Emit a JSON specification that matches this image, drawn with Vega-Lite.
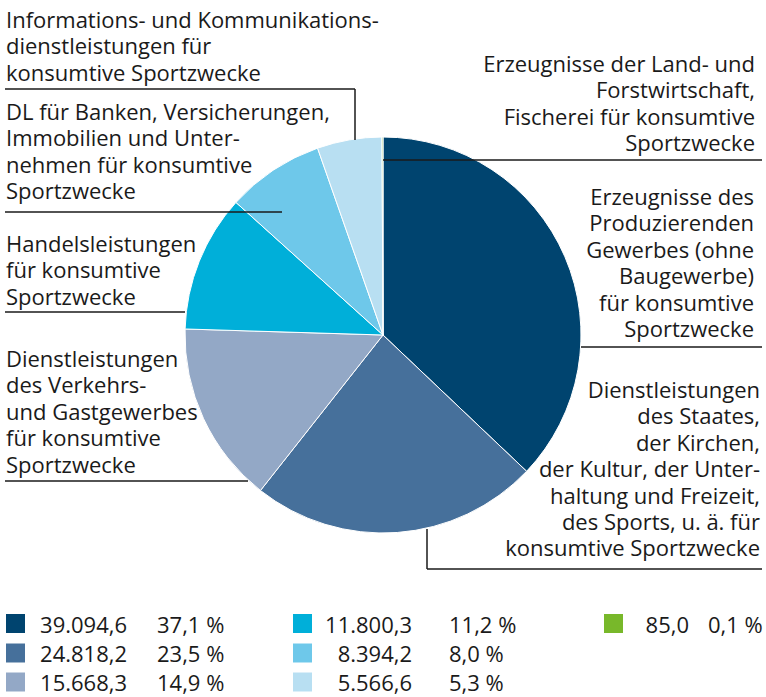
{
  "$schema": "https://vega.github.io/schema/vega-lite/v6.json",
  "width": 766,
  "height": 697,
  "padding": 0,
  "autosize": {"type": "none"},
  "background": "white",
  "config": {
    "view": {"stroke": null},
    "axis": {"disable": true},
    "text": {"font": "Open Sans", "fontSize": 22, "color": "#1a1a1a", "lineHeight": 26.4, "baseline": "alphabetic"},
    "rule": {"color": "#1a1a1a", "strokeWidth": 1.5},
    "locale": {"number": {"decimal": ",", "thousands": ".", "grouping": [3], "currency": ["", " €"], "percent": " %"}}
  },
  "datasets": {
    "slices": [
      {"key": "prod", "ord": 1, "value": 39094.6, "share": 0.371, "label": "Erzeugnisse des\nProduzierenden\nGewerbes (ohne\nBaugewerbe)\nfür konsumtive\nSportzwecke"},
      {"key": "staat", "ord": 2, "value": 24818.2, "share": 0.235, "label": "Dienstleistungen\ndes Staates,\nder Kirchen,\nder Kultur, der Unter-\nhaltung und Freizeit,\ndes Sports, u. ä. für\nkonsumtive Sportzwecke"},
      {"key": "verkehr", "ord": 3, "value": 15668.3, "share": 0.149, "label": "Dienstleistungen\ndes Verkehrs-\nund Gastgewerbes\nfür konsumtive\nSportzwecke"},
      {"key": "handel", "ord": 4, "value": 11800.3, "share": 0.112, "label": "Handelsleistungen\nfür konsumtive\nSportzwecke"},
      {"key": "banken", "ord": 5, "value": 8394.2, "share": 0.080, "label": "DL für Banken, Versicherungen,\nImmobilien und Unter-\nnehmen für konsumtive\nSportzwecke"},
      {"key": "ikt", "ord": 6, "value": 5566.6, "share": 0.053, "label": "Informations- und Kommunikations-\ndienstleistungen für\nkonsumtive Sportzwecke"},
      {"key": "land", "ord": 7, "value": 85.0, "share": 0.001, "label": "Erzeugnisse der Land- und\nForstwirtschaft,\nFischerei für konsumtive\nSportzwecke"}
    ]
  },
  "data": {"name": "slices"},
  "resolve": {"scale": {"x": "independent", "y": "independent"}},
  "layer": [
    {
      "mark": {"type": "arc", "radius": 198, "stroke": "white", "strokeWidth": 1},
      "encoding": {
        "theta": {"field": "value", "type": "quantitative", "stack": true},
        "order": {"field": "ord", "type": "quantitative"},
        "color": {"field": "key", "type": "nominal", "legend": null,
          "scale": {"domain": ["prod", "staat", "verkehr", "handel", "banken", "ikt", "land"],
                    "range": ["#00446f", "#46709b", "#93a8c6", "#00afd9", "#6ec8ea", "#b8dff2", "#78b82a"]}},
        "x": {"datum": 383, "type": "quantitative", "scale": {"domain": [0, 766], "range": [0, 766], "nice": false, "zero": false}},
        "y": {"datum": 335, "type": "quantitative", "scale": {"domain": [0, 697], "range": [0, 697], "nice": false, "zero": false}}
      }
    },
    {
      "transform": [{"filter": "datum.key == 'ikt'"}],
      "mark": {"type": "text", "align": "left", "lineBreak": "\n"},
      "encoding": {
        "text": {"field": "label"},
        "x": {"datum": 6, "type": "quantitative", "scale": {"domain": [0, 766], "range": [0, 766], "nice": false, "zero": false}},
        "y": {"datum": 28, "type": "quantitative", "scale": {"domain": [0, 697], "range": [0, 697], "nice": false, "zero": false}}
      }
    },
    {
      "transform": [{"filter": "datum.key == 'banken'"}],
      "mark": {"type": "text", "align": "left", "lineBreak": "\n"},
      "encoding": {
        "text": {"field": "label"},
        "x": {"datum": 6, "type": "quantitative", "scale": {"domain": [0, 766], "range": [0, 766], "nice": false, "zero": false}},
        "y": {"datum": 120, "type": "quantitative", "scale": {"domain": [0, 697], "range": [0, 697], "nice": false, "zero": false}}
      }
    },
    {
      "transform": [{"filter": "datum.key == 'handel'"}],
      "mark": {"type": "text", "align": "left", "lineBreak": "\n"},
      "encoding": {
        "text": {"field": "label"},
        "x": {"datum": 6, "type": "quantitative", "scale": {"domain": [0, 766], "range": [0, 766], "nice": false, "zero": false}},
        "y": {"datum": 252, "type": "quantitative", "scale": {"domain": [0, 697], "range": [0, 697], "nice": false, "zero": false}}
      }
    },
    {
      "transform": [{"filter": "datum.key == 'verkehr'"}],
      "mark": {"type": "text", "align": "left", "lineBreak": "\n"},
      "encoding": {
        "text": {"field": "label"},
        "x": {"datum": 6, "type": "quantitative", "scale": {"domain": [0, 766], "range": [0, 766], "nice": false, "zero": false}},
        "y": {"datum": 367, "type": "quantitative", "scale": {"domain": [0, 697], "range": [0, 697], "nice": false, "zero": false}}
      }
    },
    {
      "transform": [{"filter": "datum.key == 'land'"}],
      "mark": {"type": "text", "align": "right", "lineBreak": "\n"},
      "encoding": {
        "text": {"field": "label"},
        "x": {"datum": 755, "type": "quantitative", "scale": {"domain": [0, 766], "range": [0, 766], "nice": false, "zero": false}},
        "y": {"datum": 72, "type": "quantitative", "scale": {"domain": [0, 697], "range": [0, 697], "nice": false, "zero": false}}
      }
    },
    {
      "transform": [{"filter": "datum.key == 'prod'"}],
      "mark": {"type": "text", "align": "right", "lineBreak": "\n"},
      "encoding": {
        "text": {"field": "label"},
        "x": {"datum": 754, "type": "quantitative", "scale": {"domain": [0, 766], "range": [0, 766], "nice": false, "zero": false}},
        "y": {"datum": 205, "type": "quantitative", "scale": {"domain": [0, 697], "range": [0, 697], "nice": false, "zero": false}}
      }
    },
    {
      "transform": [{"filter": "datum.key == 'staat'"}],
      "mark": {"type": "text", "align": "right", "lineBreak": "\n"},
      "encoding": {
        "text": {"field": "label"},
        "x": {"datum": 760, "type": "quantitative", "scale": {"domain": [0, 766], "range": [0, 766], "nice": false, "zero": false}},
        "y": {"datum": 398, "type": "quantitative", "scale": {"domain": [0, 697], "range": [0, 697], "nice": false, "zero": false}}
      }
    },
    {
      "transform": [{"filter": "datum.key == 'ikt'"}],
      "mark": {"type": "rule"},
      "encoding": {
        "x": {"datum": 5, "type": "quantitative", "scale": {"domain": [0, 766], "range": [0, 766], "nice": false, "zero": false}},
        "x2": {"datum": 355},
        "y": {"datum": 89, "type": "quantitative", "scale": {"domain": [0, 697], "range": [0, 697], "nice": false, "zero": false}},
        "y2": {"datum": 89}
      }
    },
    {
      "transform": [{"filter": "datum.key == 'ikt'"}],
      "mark": {"type": "rule"},
      "encoding": {
        "x": {"datum": 355, "type": "quantitative", "scale": {"domain": [0, 766], "range": [0, 766], "nice": false, "zero": false}},
        "x2": {"datum": 355},
        "y": {"datum": 89, "type": "quantitative", "scale": {"domain": [0, 697], "range": [0, 697], "nice": false, "zero": false}},
        "y2": {"datum": 140}
      }
    },
    {
      "transform": [{"filter": "datum.key == 'banken'"}],
      "mark": {"type": "rule"},
      "encoding": {
        "x": {"datum": 5, "type": "quantitative", "scale": {"domain": [0, 766], "range": [0, 766], "nice": false, "zero": false}},
        "x2": {"datum": 282},
        "y": {"datum": 212, "type": "quantitative", "scale": {"domain": [0, 697], "range": [0, 697], "nice": false, "zero": false}},
        "y2": {"datum": 212}
      }
    },
    {
      "transform": [{"filter": "datum.key == 'handel'"}],
      "mark": {"type": "rule"},
      "encoding": {
        "x": {"datum": 5, "type": "quantitative", "scale": {"domain": [0, 766], "range": [0, 766], "nice": false, "zero": false}},
        "x2": {"datum": 185},
        "y": {"datum": 312, "type": "quantitative", "scale": {"domain": [0, 697], "range": [0, 697], "nice": false, "zero": false}},
        "y2": {"datum": 312}
      }
    },
    {
      "transform": [{"filter": "datum.key == 'verkehr'"}],
      "mark": {"type": "rule"},
      "encoding": {
        "x": {"datum": 5, "type": "quantitative", "scale": {"domain": [0, 766], "range": [0, 766], "nice": false, "zero": false}},
        "x2": {"datum": 248},
        "y": {"datum": 481, "type": "quantitative", "scale": {"domain": [0, 697], "range": [0, 697], "nice": false, "zero": false}},
        "y2": {"datum": 481}
      }
    },
    {
      "transform": [{"filter": "datum.key == 'land'"}],
      "mark": {"type": "rule"},
      "encoding": {
        "x": {"datum": 383, "type": "quantitative", "scale": {"domain": [0, 766], "range": [0, 766], "nice": false, "zero": false}},
        "x2": {"datum": 762},
        "y": {"datum": 160, "type": "quantitative", "scale": {"domain": [0, 697], "range": [0, 697], "nice": false, "zero": false}},
        "y2": {"datum": 160}
      }
    },
    {
      "transform": [{"filter": "datum.key == 'prod'"}],
      "mark": {"type": "rule"},
      "encoding": {
        "x": {"datum": 581, "type": "quantitative", "scale": {"domain": [0, 766], "range": [0, 766], "nice": false, "zero": false}},
        "x2": {"datum": 762},
        "y": {"datum": 347, "type": "quantitative", "scale": {"domain": [0, 697], "range": [0, 697], "nice": false, "zero": false}},
        "y2": {"datum": 347}
      }
    },
    {
      "transform": [{"filter": "datum.key == 'staat'"}],
      "mark": {"type": "rule"},
      "encoding": {
        "x": {"datum": 427, "type": "quantitative", "scale": {"domain": [0, 766], "range": [0, 766], "nice": false, "zero": false}},
        "x2": {"datum": 427},
        "y": {"datum": 529, "type": "quantitative", "scale": {"domain": [0, 697], "range": [0, 697], "nice": false, "zero": false}},
        "y2": {"datum": 569}
      }
    },
    {
      "transform": [{"filter": "datum.key == 'staat'"}],
      "mark": {"type": "rule"},
      "encoding": {
        "x": {"datum": 427, "type": "quantitative", "scale": {"domain": [0, 766], "range": [0, 766], "nice": false, "zero": false}},
        "x2": {"datum": 762},
        "y": {"datum": 569, "type": "quantitative", "scale": {"domain": [0, 697], "range": [0, 697], "nice": false, "zero": false}},
        "y2": {"datum": 569}
      }
    },
    {
      "transform": [
        {"window": [{"op": "row_number", "as": "rn"}], "sort": [{"field": "ord"}]},
        {"calculate": "floor((datum.rn - 1) / 3)", "as": "lcol"},
        {"calculate": "(datum.rn - 1) % 3", "as": "lrow"}
      ],
      "mark": {"type": "square", "size": 361, "opacity": 1, "filled": true},
      "encoding": {
        "color": {"field": "key", "type": "nominal", "legend": null},
        "x": {"field": "lcol", "type": "quantitative", "scale": {"domain": [0, 1, 2], "range": [15.5, 302.5, 613.5], "nice": false, "zero": false}},
        "y": {"field": "lrow", "type": "quantitative", "scale": {"domain": [0, 1, 2], "range": [623.5, 653, 682], "nice": false, "zero": false}}
      }
    },
    {
      "transform": [
        {"window": [{"op": "row_number", "as": "rn"}], "sort": [{"field": "ord"}]},
        {"calculate": "floor((datum.rn - 1) / 3)", "as": "lcol"},
        {"calculate": "(datum.rn - 1) % 3", "as": "lrow"}
      ],
      "mark": {"type": "text", "align": "right"},
      "encoding": {
        "text": {"field": "value", "type": "quantitative", "format": ",.1f"},
        "x": {"field": "lcol", "type": "quantitative", "scale": {"domain": [0, 1, 2], "range": [127, 412, 689], "nice": false, "zero": false}},
        "y": {"field": "lrow", "type": "quantitative", "scale": {"domain": [0, 1, 2], "range": [633, 662, 691], "nice": false, "zero": false}}
      }
    },
    {
      "transform": [
        {"window": [{"op": "row_number", "as": "rn"}], "sort": [{"field": "ord"}]},
        {"calculate": "floor((datum.rn - 1) / 3)", "as": "lcol"},
        {"calculate": "(datum.rn - 1) % 3", "as": "lrow"}
      ],
      "mark": {"type": "text", "align": "left"},
      "encoding": {
        "text": {"field": "share", "type": "quantitative", "format": ".1%"},
        "x": {"field": "lcol", "type": "quantitative", "scale": {"domain": [0, 1, 2], "range": [157, 449, 708], "nice": false, "zero": false}},
        "y": {"field": "lrow", "type": "quantitative", "scale": {"domain": [0, 1, 2], "range": [633, 662, 691], "nice": false, "zero": false}}
      }
    }
  ]
}
